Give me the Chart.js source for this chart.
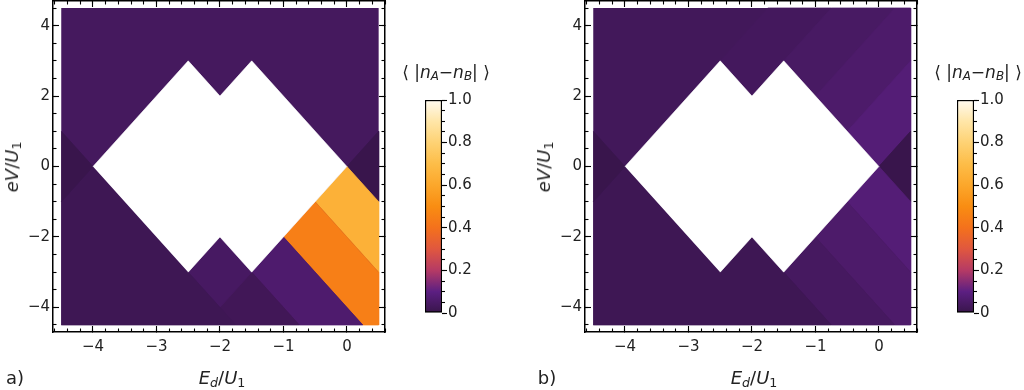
<!DOCTYPE html>
<html><head><meta charset="utf-8">
<script src="https://cdn.jsdelivr.net/npm/chart.js@4.4.0/dist/chart.umd.min.js"></script>
<style>
html,body{margin:0;padding:0;background:#fff;}
body{width:1024px;height:390px;overflow:hidden;position:relative;font-family:"DejaVu Sans",sans-serif;color:#222;}
canvas{position:absolute;}
.lbl{position:absolute;white-space:nowrap;transform:translate(-50%,-50%);line-height:1;}
.rot{transform:translate(-50%,-50%) rotate(-90deg);}
.lbl i{font-style:italic;}
.lbl sub{font-size:70%;vertical-align:-0.25em;line-height:0;}
.frame{font-size:18px;}
.cbt{font-size:17px;}
.tag{font-size:18px;}
</style></head><body>
<canvas id="mainA" width="400" height="390" style="left:0;top:0"></canvas>
<canvas id="cbarA" width="100" height="250" style="left:405px;top:80px"></canvas>
<canvas id="mainB" width="400" height="390" style="left:532px;top:0"></canvas>
<canvas id="cbarB" width="100" height="250" style="left:937px;top:80px"></canvas>

<div class="lbl frame rot" style="left:12px;top:167px"><i>eV</i>/<i>U</i><sub>1</sub></div>
<div class="lbl frame" style="left:222px;top:378px"><i>E</i><sub><i>d</i></sub>/<i>U</i><sub>1</sub></div>
<div class="lbl tag" style="left:15px;top:378px">a)</div>
<div class="lbl cbt" style="left:446px;top:72px">⟨ |<i>n</i><sub><i>A</i></sub>−<i>n</i><sub><i>B</i></sub>| ⟩</div>

<div class="lbl frame rot" style="left:544px;top:167px"><i>eV</i>/<i>U</i><sub>1</sub></div>
<div class="lbl frame" style="left:754px;top:378px"><i>E</i><sub><i>d</i></sub>/<i>U</i><sub>1</sub></div>
<div class="lbl tag" style="left:547px;top:378px">b)</div>
<div class="lbl cbt" style="left:978px;top:72px">⟨ |<i>n</i><sub><i>A</i></sub>−<i>n</i><sub><i>B</i></sub>| ⟩</div>

<script>
// ---------------- data ----------------
const xMajorTicks = [-4, -3, -2, -1, 0];
const yMajorTicks = [-4, -2, 0, 2, 4];
const xMinorStep = 0.2;
const yMinorStep = 0.5;
const cbarTicks = [0, 0.2, 0.4, 0.6, 0.8, 1.0];
const cbarTickLabels = ['0', '0.2', '0.4', '0.6', '0.8', '1.0'];
const cbarMinorStep = 0.05;

// white (blocked) region
const blockadeX = [-4, -2.5, -2, -1.5, 0, -1.5, -2, -2.5];
const blockadeY = [0, 3, 2, 3, 0, -3, -2, -3];

// full data domain
const domainRect = [[-4.5, 4.5], [0.5, 4.5], [0.5, -4.5], [-4.5, -4.5]];

// panel a: regions and their <|nA-nB|> values
const panelABase = 0.036;
const panelAShapes = [
  [[-4.5, 1], [-4, 0], [-4.5, -1]],
  [[-4.5, -1], [-4, 0], [-2.5, -3], [-1.75, -4.5], [-4.5, -4.5]],
  [[-2.5, -3], [-2, -2], [-1.5, -3], [-2, -4]],
  [[-2, -4], [-1.5, -3], [-0.75, -4.5], [-1.75, -4.5]],
  [[-1.5, -3], [-1, -2], [0.25, -4.5], [-0.75, -4.5]],
  [[-1, -2], [-0.5, -1], [0.5, -3], [0.5, -4.5], [0.25, -4.5]],
  [[-0.5, -1], [0, 0], [0.5, -1], [0.5, -3]],
  [[0, 0], [0.5, 1], [0.5, -1]]
];
const panelAValues = [0.004, 0.018, 0.042, 0.024, 0.062, 0.45, 0.645, 0.004];

// panel b: regions and their values
const panelBBase = 0.028;
const panelBShapes = [
  [[-4.5, 1], [-4, 0], [-4.5, -1]],
  [[-4.5, -1], [-4, 0], [-2.5, -3], [-2, -2], [-1.5, -3], [-0.75, -4.5], [-4.5, -4.5]],
  [[-1.5, -3], [-1, -2], [0.25, -4.5], [-0.75, -4.5]],
  [[-1, -2], [-0.5, -1], [0.5, -3], [0.5, -4.5], [0.25, -4.5]],
  [[-0.5, -1], [0, 0], [0.5, -1], [0.5, -3]],
  [[0, 0], [0.5, 1], [0.5, -1]],
  [[0, 0], [-0.5, 1], [0.5, 3], [0.5, 1]],
  [[-0.5, 1], [-1, 2], [0.25, 4.5], [0.5, 4.5], [0.5, 3]],
  [[-1, 2], [-1.5, 3], [-0.75, 4.5], [0.25, 4.5]],
  [[-2.5, 3], [-1.75, 4.5], [-0.75, 4.5], [-1.5, 3], [-2, 2]]
];
const panelBValues = [0.004, 0.018, 0.04, 0.058, 0.078, 0.004, 0.078, 0.058, 0.045, 0.034];

// colour map (value -> colour)
const cmapPos = [0, 0.1, 0.2, 0.3, 0.4, 0.5, 0.6, 0.7, 0.8, 0.9, 1.0];
const cmapColors = ['#38154a', '#5c1f82', '#b53a65', '#e0573f', '#f4711c', '#f98d12',
                    '#fca72b', '#fdbd48', '#fed274', '#ffe6a8', '#fffaf0'];

// ---------------- helpers ----------------
function hexRgb(h) { return [1, 3, 5].map(i => parseInt(h.substr(i, 2), 16)); }
function colorFor(v) {
  for (let i = 0; i < cmapPos.length - 1; i++) {
    if (v <= cmapPos[i + 1]) {
      const t = (v - cmapPos[i]) / (cmapPos[i + 1] - cmapPos[i]);
      const a = hexRgb(cmapColors[i]), b = hexRgb(cmapColors[i + 1]);
      const c = a.map((x, k) => Math.round(x + (b[k] - x) * t));
      return 'rgb(' + c.join(',') + ')';
    }
  }
  return cmapColors[cmapColors.length - 1];
}
function polygon(verts, color, order, bw) {
  return {
    data: verts.map(([x, y]) => ({x, y})),
    showLine: true, fill: 'shape', tension: 0,
    backgroundColor: color, borderColor: color, borderWidth: bw,
    pointRadius: 0, pointHoverRadius: 0, order
  };
}
function stepValues(min, max, step) {
  const out = [];
  for (let k = Math.ceil(min / step - 1e-9); k * step <= max + 1e-9; k++) out.push(Math.round(k * step * 1000) / 1000);
  return out;
}
function fmt(v) { return (v < 0 ? '\u2212' : '') + Math.abs(v); }
const tickFont = {family: 'DejaVu Sans', size: 15};

function axis(position, weight, min, max, tickValues, tickLen, labelled, size, padding) {
  const horizontal = position === 'top' || position === 'bottom';
  return {
    type: 'linear', position, weight, min, max,
    afterBuildTicks: s => { s.ticks = tickValues.map(v => ({value: v})); },
    ticks: {
      display: labelled, autoSkip: false, maxRotation: 0, minRotation: 0,
      font: tickFont, color: '#222', padding: padding,
      callback: v => labelled ? fmt(v) : ''
    },
    grid: {drawOnChartArea: false, drawTicks: true, tickLength: tickLen, tickWidth: 1.1, tickColor: '#000', z: 1},
    border: {display: weight === 1, color: '#000', width: 1.5, z: 2},
    afterFit: s => {
      if (horizontal) s.height = size; else s.width = size;
      s.paddingTop = 0; s.paddingBottom = 0; s.paddingLeft = 0; s.paddingRight = 0;
    }
  };
}

const X_MIN = -4.63, X_MAX = 0.6, Y_MIN = -4.7, Y_MAX = 4.7;

function makePanel(id, base, shapes, values) {
  const datasets = [];
  datasets.push(polygon(blockadeX.map((x, i) => [x, blockadeY[i]]), '#ffffff', 0, 0.6));
  shapes.forEach((s, i) => datasets.push(polygon(s, colorFor(values[i]), 1, 0.8)));
  datasets.push(polygon(domainRect, colorFor(base), 2, 0));
  const xMinor = stepValues(X_MIN, X_MAX, xMinorStep);
  const yMinor = stepValues(Y_MIN, Y_MAX, yMinorStep);
  new Chart(document.getElementById(id), {
    type: 'scatter',
    data: {datasets},
    options: {
      responsive: false, animation: false, events: [],
      layout: {padding: 0, autoPadding: false},
      plugins: {legend: {display: false}, tooltip: {enabled: false}},
      scales: {
        x: axis('bottom', 1, X_MIN, X_MAX, xMajorTicks, -6, true, 58, 12),
        xm: axis('bottom', 0, X_MIN, X_MAX, xMinor, -3.5, false, 0, 0),
        xt: axis('top', 1, X_MIN, X_MAX, xMajorTicks, -6, false, 1, 0),
        xtm: axis('top', 0, X_MIN, X_MAX, xMinor, -3.5, false, 0, 0),
        y: axis('left', 1, Y_MIN, Y_MAX, yMajorTicks, -6, true, 53, 9),
        ym: axis('left', 0, Y_MIN, Y_MAX, yMinor, -3.5, false, 0, 0),
        yr: axis('right', 1, Y_MIN, Y_MAX, yMajorTicks, -6, false, 15, 0),
        yrm: axis('right', 0, Y_MIN, Y_MAX, yMinor, -3.5, false, 0, 0)
      }
    }
  });
}

function makeColorbar(id) {
  const minor = stepValues(0, 1, cbarMinorStep);
  new Chart(document.getElementById(id), {
    type: 'bar',
    data: {
      labels: [''],
      datasets: [{
        data: [1],
        backgroundColor: ctx => {
          const area = ctx.chart.chartArea;
          if (!area) return cmapColors[0];
          const g = ctx.chart.ctx.createLinearGradient(0, area.bottom, 0, area.top);
          cmapPos.forEach((p, i) => g.addColorStop(p, cmapColors[i]));
          return g;
        },
        borderColor: '#000', borderWidth: 1.5, borderSkipped: false,
        barPercentage: 1, categoryPercentage: 1
      }]
    },
    options: {
      responsive: false, animation: false, events: [],
      layout: {padding: {left: 20, top: 20, bottom: 17, right: 0}, autoPadding: false},
      plugins: {legend: {display: false}, tooltip: {enabled: false}},
      scales: {
        x: {display: false},
        y: {
          position: 'right', weight: 1, min: 0, max: 1,
          afterBuildTicks: s => { s.ticks = cbarTicks.map(v => ({value: v})); },
          ticks: {autoSkip: false, font: tickFont, color: '#222', padding: 1,
                  callback: (v, i) => cbarTickLabels[i]},
          grid: {drawOnChartArea: false, tickLength: 5, tickWidth: 1.1, tickColor: '#000', z: 1},
          border: {display: false},
          afterFit: s => { s.width = 63; s.paddingTop = 0; s.paddingBottom = 0; }
        },
        ym: {
          position: 'right', weight: 0, min: 0, max: 1,
          afterBuildTicks: s => { s.ticks = minor.map(v => ({value: v})); },
          ticks: {display: false, autoSkip: false},
          grid: {drawOnChartArea: false, tickLength: 3, tickWidth: 1.1, tickColor: '#000', z: 1},
          border: {display: false},
          afterFit: s => { s.width = 0; }
        }
      }
    }
  });
}

makePanel('mainA', panelABase, panelAShapes, panelAValues);
makePanel('mainB', panelBBase, panelBShapes, panelBValues);
makeColorbar('cbarA');
makeColorbar('cbarB');
</script>
</body></html>
